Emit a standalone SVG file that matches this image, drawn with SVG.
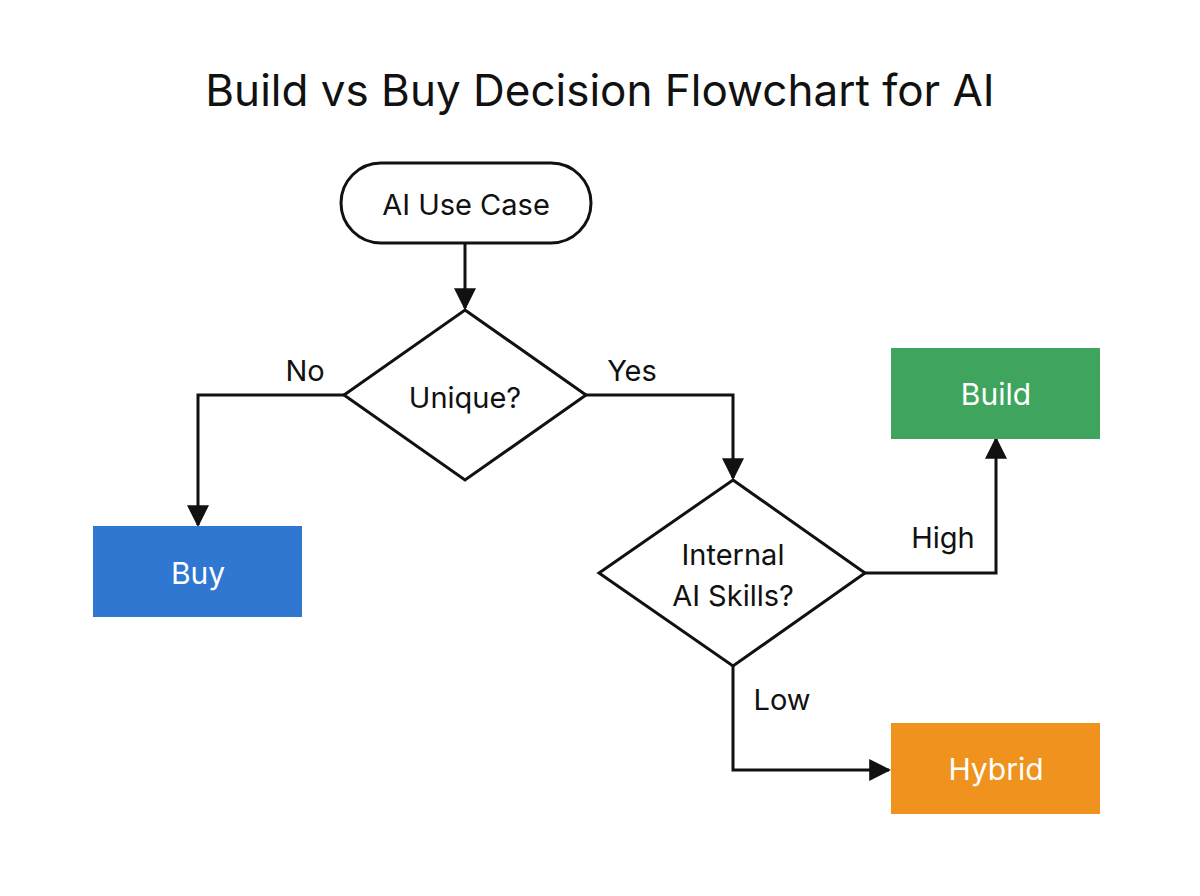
<svg xmlns="http://www.w3.org/2000/svg" width="1200" height="896" viewBox="0 0 1200 896">
<style>
text{font-family:Inter,"Noto Sans","Liberation Sans",sans-serif;text-anchor:middle;dominant-baseline:central;fill:#111}
.n{fill:#fff;stroke:#111;stroke-width:3}
.l{font-size:29px}
.w{fill:#fff;font-size:30px}
.c{fill:none;stroke:#111;stroke-width:3;marker-end:url(#a)}
</style>
<defs><marker id="a" markerWidth="10" markerHeight="10" refX="8" refY="5" orient="auto" markerUnits="userSpaceOnUse" viewBox="0 0 10 10"><path d="M0,0L10,5L0,10z" fill="#111"/></marker>
<marker id="a2" viewBox="0 0 10 10" refX="9" refY="5" markerWidth="22" markerHeight="22" markerUnits="userSpaceOnUse" orient="auto"><path d="M0,0L10,5L0,10z" fill="#111"/></marker></defs>
<rect width="1200" height="896" fill="#fff"/>
<text x="600" y="90" font-size="44">Build vs Buy Decision Flowchart for AI</text>
<g id="connectors" style="marker-end:url(#a2)">
<path class="c" style="marker-end:url(#a2)" d="M465,243V308"/>
<path class="c" style="marker-end:url(#a2)" d="M344,395H198V525"/>
<path class="c" style="marker-end:url(#a2)" d="M586,395H733V478"/>
<path class="c" style="marker-end:url(#a2)" d="M865,573H996V439"/>
<path class="c" style="marker-end:url(#a2)" d="M733,666V770H889"/>
<text class="l" x="305" y="370">No</text>
<text class="l" x="632" y="370">Yes</text>
<text class="l" x="943" y="537">High</text>
<text class="l" x="782" y="699">Low</text>
</g>
<g id="start"><rect class="n" x="341" y="163" width="250" height="80" rx="40"/><text class="l" x="466" y="204">AI Use Case</text></g>
<g id="unique"><path class="n" d="M465,310L586,395L465,480L344,395Z"/><text class="l" x="465" y="397">Unique?</text></g>
<g id="skills"><path class="n" d="M733,480L865,573L733,666L599,573Z"/><text class="l" x="733" y="554">Internal</text><text class="l" x="733" y="595">AI Skills?</text></g>
<g id="buy"><rect x="93" y="526" width="209" height="91" fill="#2F77D0"/><text class="w" x="198" y="573">Buy</text></g>
<g id="build"><rect x="891" y="348" width="209" height="91" fill="#3FA55E"/><text class="w" x="996" y="394">Build</text></g>
<g id="hybrid"><rect x="891" y="723" width="209" height="91" fill="#F0921E"/><text class="w" x="996" y="769">Hybrid</text></g>
</svg>
